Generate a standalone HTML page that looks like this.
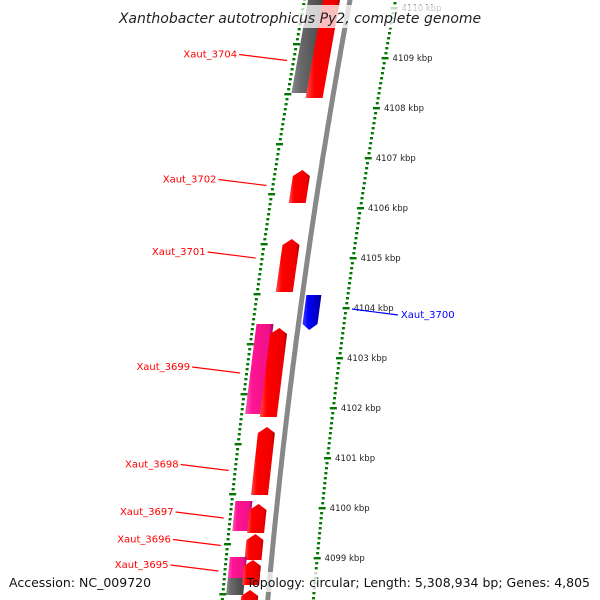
<!DOCTYPE html>
<html><head><meta charset="utf-8"><style>
html,body{margin:0;padding:0;background:#fff;width:600px;height:600px;overflow:hidden}
svg{display:block;font-family:"DejaVu Sans","Liberation Sans",sans-serif}
</style></head><body>
<svg id="map" width="600" height="600" viewBox="0 0 600 600" xmlns="http://www.w3.org/2000/svg">
<defs>
<linearGradient id="gRed" x1="0" x2="1"><stop offset="0" stop-color="#ff5050"/><stop offset="0.25" stop-color="#ff0000"/><stop offset="0.85" stop-color="#ee0000"/><stop offset="1" stop-color="#b00000"/></linearGradient>
<linearGradient id="gPink" x1="0" x2="1"><stop offset="0" stop-color="#ff55bb"/><stop offset="0.25" stop-color="#ff1493"/><stop offset="0.85" stop-color="#ee1188"/><stop offset="1" stop-color="#a00060"/></linearGradient>
<linearGradient id="gGray" x1="0" x2="1"><stop offset="0" stop-color="#888"/><stop offset="0.25" stop-color="#6a6a6a"/><stop offset="1" stop-color="#444"/></linearGradient>
<linearGradient id="gBlue" x1="0" x2="1"><stop offset="0" stop-color="#4040ff"/><stop offset="0.3" stop-color="#0000ff"/><stop offset="1" stop-color="#0000a0"/></linearGradient>
<linearGradient id="gBack" x1="0" x2="1"><stop offset="0" stop-color="#bbb"/><stop offset="0.5" stop-color="#888"/><stop offset="1" stop-color="#555"/></linearGradient>
</defs>
<g id="layer"></g>
</svg>
<script>
// data
const tickKbp = [4110,4109,4108,4107,4106,4105,4104,4103,4102,4101,4100,4099,4098];
const geneStart = [4110.3,4110.3,4106.76,4105.38,4104.26,4103.68,4103.60,4101.62,4100.14,4100.08,4099.48,4099.02,4098.60,4098.96,4098.36];
const geneEnd   = [4108.3,4108.2,4106.10,4104.32,4103.56,4101.88,4101.82,4100.26,4099.54,4099.50,4098.96,4098.60,4098.26,4098.46,4097.80];
const geneTrack = ['outer','inner','inner','inner','plus','outer','inner','inner','outer','inner','inner','outer','outer','inner','inner'];
const geneKind  = ['gray','red','red','red','blue','pink','red','red','pink','red','red','pink','gray','red','red'];
const labelNames = ['Xaut_3704','Xaut_3702','Xaut_3701','Xaut_3700','Xaut_3699','Xaut_3698','Xaut_3697','Xaut_3696','Xaut_3695'];
const labelKbp   = [4108.95,4106.45,4105.0,4103.9,4102.7,4100.75,4099.8,4099.25,4098.74];

const NS="http://www.w3.org/2000/svg";
const layer=document.getElementById('layer');
function yOf(k){return 308+(4104-k)*50;}
function xb(y){return 350-0.185*y+0.00008*y*y;}
function mk(tag,attrs,parent){const e=document.createElementNS(NS,tag);for(const a in attrs)e.setAttribute(a,attrs[a]);(parent||layer).appendChild(e);return e;}

// rings of minor dots
for(let k=4110.4;k>=4097.8;k-=0.1){
  const kr=Math.round(k*10)/10; const y=yOf(kr);
  if(Math.abs(kr-Math.round(kr))<0.01) continue;
  const d1=mk('rect',{x:xb(y)+44,y:y-1,width:3,height:2.4,fill:'#007700'});
  
  
  const y2=y-14;
  const d2=mk('rect',{x:xb(y2)-47,y:y2-1,width:3,height:2.4,fill:'#007700'});
  
  
}
tickKbp.forEach(k=>{
  const y=yOf(k);
  const t=mk('rect',{x:xb(y)+42,y:y-1,width:7,height:2.4,fill:'#007700'});
  
  
  const y2=y-14;
  const t2=mk('rect',{x:xb(y2)-49,y:y2-1,width:7,height:2.4,fill:'#007700'});
  
  
  const tx=mk('text',{x:xb(y)+53,y:y+3,'font-size':8.5,fill:'#222'});
  tx.textContent=k+' kbp';
  
  
});

// backbone
let bp='';for(let y=-5;y<=605;y+=5){bp+=(y<0?'M':'L')+xb(y).toFixed(1)+','+y+' ';}
const bb=mk('path',{d:bp,stroke:'#888',fill:'none','stroke-width':5});



// genes
const off={outer:[-42,-25],inner:[-27,-10],plus:[4,19]};
const fills={red:'url(#gRed)',pink:'url(#gPink)',gray:'url(#gGray)',blue:'url(#gBlue)'};
geneStart.forEach((s,i)=>{
  const y1=yOf(s),y2=yOf(geneEnd[i]);
  const [a,b]=off[geneTrack[i]];
  const kind=geneKind[i];
  let pts;
  const L=(y)=>xb(y)+a,R=(y)=>xb(y)+b;
  if(kind==='red'){
    const ya=y1+6;
    pts=[[L(y2),y2],[L(ya),ya],[(L(y1)+R(y1))/2,y1],[R(ya),ya],[R(y2),y2]];
  }else if(kind==='blue'){
    const ya=y2-6;
    pts=[[L(y1),y1],[L(ya),ya],[(L(y2)+R(y2))/2,y2],[R(ya),ya],[R(y1),y1]];
  }else{
    pts=[[L(y1),y1],[R(y1),y1],[R(y2),y2],[L(y2),y2]];
  }
  const p=mk('polygon',{points:pts.map(q=>q[0].toFixed(1)+','+q[1].toFixed(1)).join(' '),fill:fills[kind]});
  
  
});

// labels
labelNames.forEach((n,i)=>{
  const y=yOf(labelKbp[i]);
  const blue=n==='Xaut_3700';
  const col=blue?'#0000ff':'#ff0000';
  let lx1,lx2,tx,anchor;
  if(blue){lx1=xb(y)+52;lx2=lx1+46;tx=lx2+3;anchor='start';}
  else{lx2=xb(y)-52;lx1=lx2-48;tx=lx1-2;anchor='end';}
  const ln=mk('line',{x1:lx1,y1:blue?y-4:y-6,x2:lx2,y2:blue?y+2:y,stroke:col,'stroke-width':1.2});
  
  
  const t=mk('text',{x:tx,y:blue?y+5:y-3,'font-size':10,fill:col,'text-anchor':anchor});
  t.textContent=n;
  
  
});

// title & footer
const tb=mk('rect',{x:118,y:5,width:364,height:23,fill:'#fff','fill-opacity':0.75});


const ti=mk('text',{x:300,y:23,'font-size':14,'font-style':'italic','text-anchor':'middle',fill:'#222'});
ti.textContent='Xanthobacter autotrophicus Py2, complete genome';


const fb=mk('rect',{x:260,y:572,width:335,height:20,fill:'#fff','fill-opacity':0.75});


const f1=mk('text',{x:9,y:587,'font-size':12.5,fill:'#111'});
f1.textContent='Accession: NC_009720';


const f2=mk('text',{x:590,y:587,'font-size':12.5,fill:'#111','text-anchor':'end'});
f2.textContent='Topology: circular; Length: 5,308,934 bp; Genes: 4,805';


</script>
</body></html>
